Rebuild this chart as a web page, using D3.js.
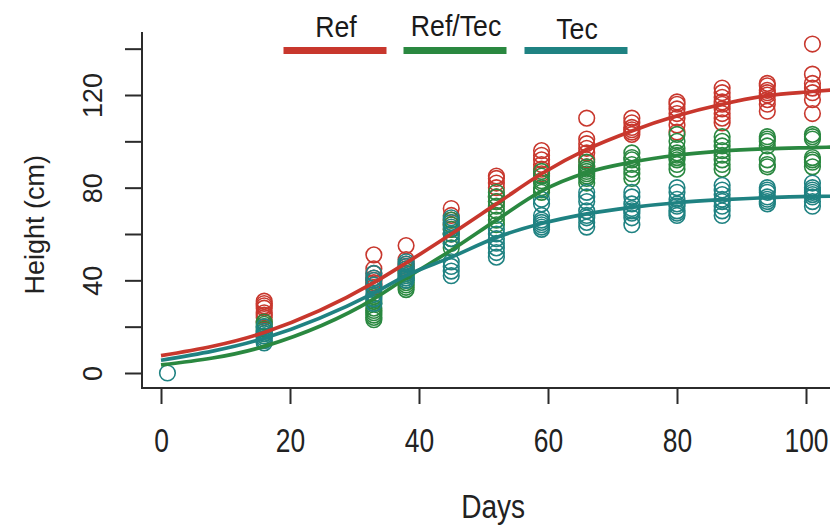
<!DOCTYPE html>
<html>
<head>
<meta charset="utf-8">
<script src="https://cdn.jsdelivr.net/npm/d3@7"></script>
<style>
  body { margin: 0; background: #fff; }
  svg { display: block; }
</style>
</head>
<body>
<div id="chart"></div>
<script>
// measured heights per sampling day (cm)
const sampleDays = [1, 16, 33, 38, 45, 52, 59, 66, 73, 80, 87, 94, 101];

const refHeights = [
  [],
  [31, 30, 29, 28, 26, 25, 24, 22],
  [51, 45, 43, 41, 40, 39, 38, 37],
  [55, 49, 47, 46, 45, 44],
  [71, 68, 66, 64, 62, 60],
  [85, 84, 82, 80, 76, 74],
  [96, 94, 92, 90, 88, 86],
  [110, 101, 99, 97, 95, 92, 89],
  [110, 108, 106, 105, 104, 103],
  [117, 116, 114, 112, 110, 107, 104],
  [123, 121, 119, 117, 116, 114, 112, 110, 108],
  [125, 124, 122, 121, 120, 118, 116, 113],
  [142, 129, 125, 123, 121, 118, 112]
];

const mixHeights = [
  [],
  [22, 21, 20, 19, 18, 17, 16],
  [33, 31, 30, 28, 27, 26, 25, 24, 23],
  [44, 43, 41, 40, 39, 38, 37, 36],
  [66, 64, 62, 60, 58, 56, 54],
  [78, 76, 74, 72, 70, 68, 66, 64],
  [87, 85, 83, 82, 80, 79, 78],
  [91, 89, 88, 87, 86, 85, 84, 82],
  [95, 93, 92, 90, 88, 86, 84],
  [103, 100, 97, 95, 94, 93, 92, 90, 88],
  [102, 100, 98, 96, 94, 92, 90, 88],
  [102, 101, 100, 98, 92, 90, 89],
  [103, 102, 101, 93, 92, 91, 89]
];

const tecHeights = [
  [0],
  [20, 18, 17, 16, 15, 14, 13],
  [43, 41, 40, 38, 36, 34, 32, 30],
  [48, 47, 46, 45, 43, 42, 41, 40],
  [67, 65, 63, 60, 58, 56, 48, 46, 44, 42],
  [62, 60, 58, 56, 54, 52, 50],
  [75, 73, 68, 66, 65, 64, 63, 62],
  [78, 76, 74, 70, 68, 67, 65, 63],
  [78, 76, 73, 71, 70, 69, 67, 64],
  [80, 78, 75, 73, 72, 70, 69, 68],
  [81, 79, 77, 75, 74, 72, 70, 68],
  [80, 79, 78, 76, 75, 74, 73],
  [82, 80, 79, 78, 77, 76, 74, 72]
];

// fitted growth curves
const fitDays = [0, 16, 33, 38, 45, 52, 59, 66, 73, 80, 87, 94, 101, 104];
const refFit = [7.5, 17.5, 39, 47.5, 60, 73, 86, 96.5, 104.5, 111, 116, 119.7, 121.5, 122.2];
const mixFit = [3.5, 11.5, 32, 41, 53, 66, 78.5, 86.5, 91, 94, 95.8, 96.8, 97.3, 97.5];
const tecFit = [5.5, 15, 34.5, 42, 50, 58.5, 64.5, 68.7, 71.5, 73.5, 74.8, 75.7, 76.2, 76.3];

const groups = [
  { name: "Ref", color: "#c8372d", pts: refHeights, fit: refFit },
  { name: "Ref/Tec", color: "#2a8840", pts: mixHeights, fit: mixFit },
  { name: "Tec", color: "#1f8282", pts: tecHeights, fit: tecFit }
];

const xTicks = [0, 20, 40, 60, 80, 100];
const yTicks = [0, 20, 40, 60, 80, 100, 120, 140];
const yLabelled = [0, 40, 80, 120];

const width = 830, height = 525;
const box = { left: 142, top: 32, bottom: 388 };

const x = d3.scaleLinear().domain([0, 100]).range([161, 806]);
const y = d3.scaleLinear().domain([0, 120]).range([373, 95]);

const svg = d3.select("#chart").append("svg")
  .attr("width", width)
  .attr("height", height);

// points
groups.forEach(g => {
  const flat = [];
  g.pts.forEach((vals, i) => vals.forEach(v => flat.push({ d: sampleDays[i], v })));
  svg.append("g")
    .selectAll("circle")
    .data(flat)
    .enter().append("circle")
    .attr("cx", p => x(p.d))
    .attr("cy", p => y(p.v))
    .attr("r", 7.8)
    .attr("fill", "none")
    .attr("stroke", g.color)
    .attr("stroke-width", 1.6);
});

// fitted lines
const line = d3.line()
  .x((d, i) => x(fitDays[i]))
  .y(d => y(d))
  .curve(d3.curveMonotoneX);

groups.forEach(g => {
  svg.append("path")
    .datum(g.fit)
    .attr("d", line)
    .attr("fill", "none")
    .attr("stroke", g.color)
    .attr("stroke-width", 3.7);
});

// box (L shape)
svg.append("path")
  .attr("d", `M${box.left},${box.top}V${box.bottom}H${width + 5}`)
  .attr("fill", "none")
  .attr("stroke", "#2b2b2b")
  .attr("stroke-width", 2);

// y axis
const yAxis = svg.append("g")
  .attr("transform", `translate(${box.left},0)`)
  .call(d3.axisLeft(y).tickValues(yTicks).tickSize(17)
    .tickFormat(d => yLabelled.includes(d) ? d : ""));
yAxis.select(".domain").remove();
yAxis.selectAll("line").attr("stroke", "#2b2b2b").attr("stroke-width", 2);
yAxis.selectAll("text")
  .attr("x", null).attr("dy", null)
  .attr("text-anchor", "middle")
  .attr("transform", "translate(-40,0) rotate(-90)")
  .attr("fill", "#222")
  .style("font-family", "Liberation Sans, Arial, sans-serif")
  .style("font-size", "27px");

// x axis (condensed labels)
const xAxis = svg.append("g")
  .attr("transform", `translate(0,${box.bottom})`)
  .call(d3.axisBottom(x).tickValues(xTicks).tickSize(16).tickPadding(0));
xAxis.select(".domain").remove();
xAxis.selectAll("line").attr("stroke", "#2b2b2b").attr("stroke-width", 2);
xAxis.selectAll("text")
  .attr("y", null).attr("dy", null)
  .attr("transform", "translate(0,64) scale(0.8,1)")
  .attr("fill", "#222")
  .style("font-family", "Liberation Sans, Arial, sans-serif")
  .style("font-size", "33px");

// axis titles
svg.append("text")
  .attr("transform", `translate(${x(51.5)},518) scale(0.85,1)`)
  .attr("text-anchor", "middle")
  .attr("fill", "#222")
  .style("font-family", "Liberation Sans, Arial, sans-serif")
  .style("font-size", "33px")
  .text("Days");

svg.append("text")
  .attr("transform", `translate(44,${y(64)}) rotate(-90)`)
  .attr("text-anchor", "middle")
  .attr("fill", "#222")
  .style("font-family", "Liberation Sans, Arial, sans-serif")
  .style("font-size", "27px")
  .text("Height (cm)");

// legend
const legendX = [335, 455, 576];
const legendTextY = [37, 36, 39];
const leg = svg.append("g");
groups.forEach((g, i) => {
  leg.append("rect")
    .attr("x", legendX[i] - 51.5)
    .attr("y", 47)
    .attr("width", 103)
    .attr("height", 7)
    .attr("fill", g.color);
  leg.append("text")
    .attr("transform", `translate(${legendX[i] + 1},${legendTextY[i]}) scale(0.92,1)`)
    .attr("text-anchor", "middle")
    .attr("fill", "#1a1a1a")
    .style("font-family", "Liberation Sans, Arial, sans-serif")
    .style("font-size", "29px")
    .text(g.name);
});
</script>
</body>
</html>
